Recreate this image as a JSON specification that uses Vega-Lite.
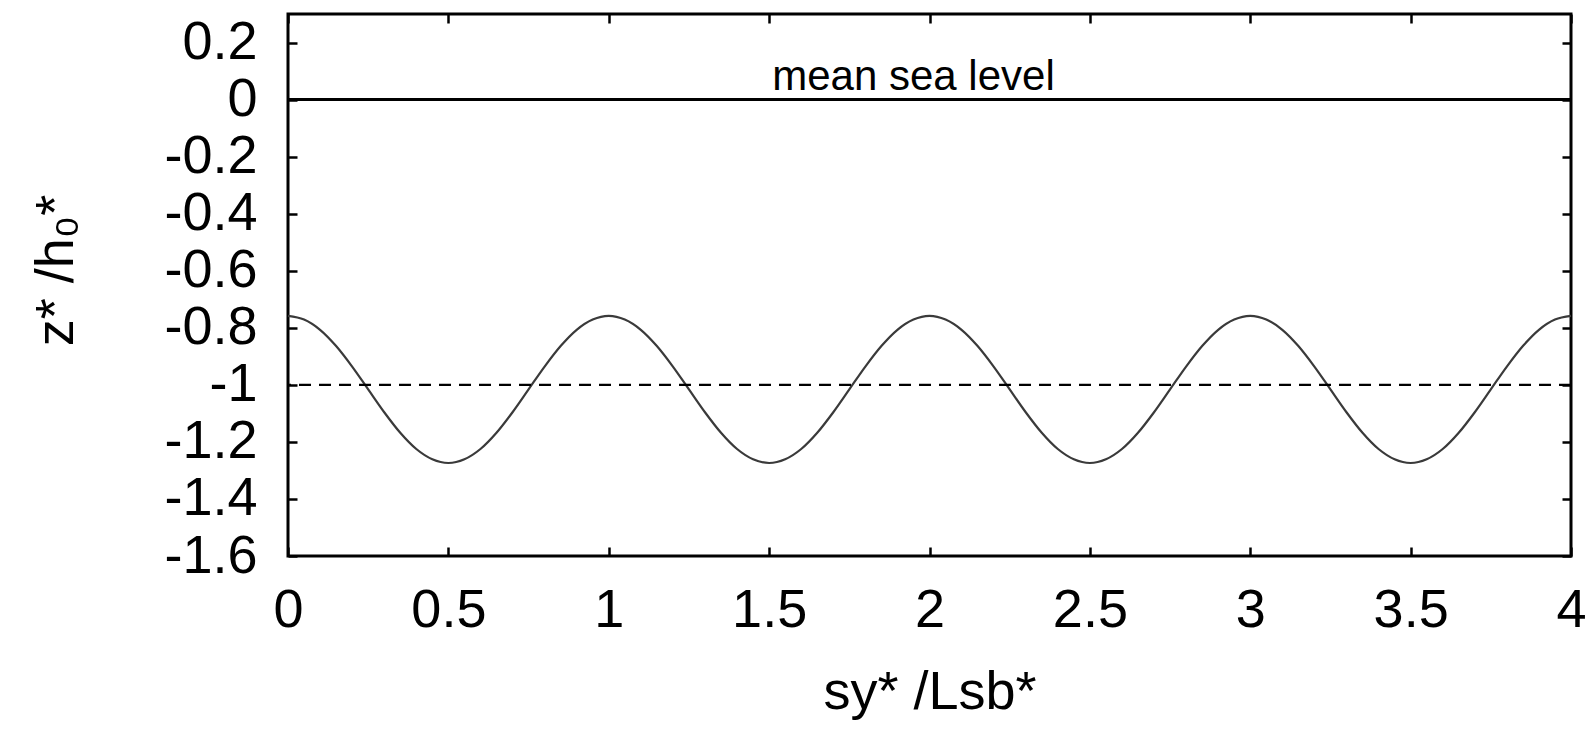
{
  "$schema": "https://vega.github.io/schema/vega-lite/v6.json",
  "autosize": "none",
  "width": 1283,
  "height": 542,
  "padding": {"left": 288, "top": 14, "right": 23, "bottom": 175},
  "background": "white",
  "config": {
    "view": {"stroke": "black", "strokeWidth": 3},
    "font": "Liberation Sans",
    "axis": {"grid": false, "domain": false, "ticks": true, "tickColor": "black", "tickWidth": 2.5, "tickSize": 9, "offset": -9, "labelColor": "black", "titleColor": "black", "labelFont": "Liberation Sans", "titleFont": "Liberation Sans", "labelFontSize": 54, "titleFontSize": 54, "titleFontWeight": "normal", "labelFlush": false, "labelOverlap": false}
  },
  "datasets": {
    "profile": [
      {"s":0,"z":-0.758},{"s":0.05,"z":-0.771},{"s":0.1,"z":-0.807},{"s":0.15,"z":-0.864},{"s":0.2,"z":-0.936},{"s":0.25,"z":-1.016},{"s":0.3,"z":-1.096},{"s":0.35,"z":-1.168},{"s":0.4,"z":-1.225},{"s":0.45,"z":-1.261},
      {"s":0.5,"z":-1.274},{"s":0.55,"z":-1.261},{"s":0.6,"z":-1.225},{"s":0.65,"z":-1.168},{"s":0.7,"z":-1.096},{"s":0.75,"z":-1.016},{"s":0.8,"z":-0.936},{"s":0.85,"z":-0.864},{"s":0.9,"z":-0.807},{"s":0.95,"z":-0.771},
      {"s":1,"z":-0.758},{"s":1.05,"z":-0.771},{"s":1.1,"z":-0.807},{"s":1.15,"z":-0.864},{"s":1.2,"z":-0.936},{"s":1.25,"z":-1.016},{"s":1.3,"z":-1.096},{"s":1.35,"z":-1.168},{"s":1.4,"z":-1.225},{"s":1.45,"z":-1.261},
      {"s":1.5,"z":-1.274},{"s":1.55,"z":-1.261},{"s":1.6,"z":-1.225},{"s":1.65,"z":-1.168},{"s":1.7,"z":-1.096},{"s":1.75,"z":-1.016},{"s":1.8,"z":-0.936},{"s":1.85,"z":-0.864},{"s":1.9,"z":-0.807},{"s":1.95,"z":-0.771},
      {"s":2,"z":-0.758},{"s":2.05,"z":-0.771},{"s":2.1,"z":-0.807},{"s":2.15,"z":-0.864},{"s":2.2,"z":-0.936},{"s":2.25,"z":-1.016},{"s":2.3,"z":-1.096},{"s":2.35,"z":-1.168},{"s":2.4,"z":-1.225},{"s":2.45,"z":-1.261},
      {"s":2.5,"z":-1.274},{"s":2.55,"z":-1.261},{"s":2.6,"z":-1.225},{"s":2.65,"z":-1.168},{"s":2.7,"z":-1.096},{"s":2.75,"z":-1.016},{"s":2.8,"z":-0.936},{"s":2.85,"z":-0.864},{"s":2.9,"z":-0.807},{"s":2.95,"z":-0.771},
      {"s":3,"z":-0.758},{"s":3.05,"z":-0.771},{"s":3.1,"z":-0.807},{"s":3.15,"z":-0.864},{"s":3.2,"z":-0.936},{"s":3.25,"z":-1.016},{"s":3.3,"z":-1.096},{"s":3.35,"z":-1.168},{"s":3.4,"z":-1.225},{"s":3.45,"z":-1.261},
      {"s":3.5,"z":-1.274},{"s":3.55,"z":-1.261},{"s":3.6,"z":-1.225},{"s":3.65,"z":-1.168},{"s":3.7,"z":-1.096},{"s":3.75,"z":-1.016},{"s":3.8,"z":-0.936},{"s":3.85,"z":-0.864},{"s":3.9,"z":-0.807},{"s":3.95,"z":-0.771},
      {"s":4,"z":-0.758}
    ],
    "levels": [{"name":"mean sea level","z":0},{"name":"reference depth","z":-1}],
    "note": [{"s":1.95,"z":0,"label":"mean sea level"}]
  },
  "resolve": {"axis": {"x": "independent", "y": "independent"}},
  "layer": [
    {
      "data": {"name": "profile"},
      "mark": {"type": "line", "color": "#3a3a3a", "strokeWidth": 2.2, "interpolate": "monotone"},
      "encoding": {
        "x": {"field": "s", "type": "quantitative", "scale": {"domain": [0, 4], "nice": false, "zero": false},
          "axis": {"orient": "bottom", "values": [0,0.5,1,1.5,2,2.5,3,3.5,4], "format": "~g", "labelPadding": 27, "title": "sy* /Lsb*", "titlePadding": 28}},
        "y": {"field": "z", "type": "quantitative", "scale": {"domain": [-1.6, 0.3], "nice": false, "zero": false},
          "axis": {"orient": "left", "values": [-1.6,-1.4,-1.2,-1,-0.8,-0.6,-0.4,-0.2,0,0.2], "format": "~g", "labelExpr": "replace(datum.label, '\u2212', '-')", "labelPadding": 31, "title": "z* /h₀*", "titlePadding": 80, "titleY": 256}}
      }
    },
    {
      "data": {"name": "levels"},
      "transform": [{"filter": "datum.z == 0"}],
      "mark": {"type": "rule", "color": "black", "strokeWidth": 3},
      "encoding": {"y": {"field": "z", "type": "quantitative", "axis": null}}
    },
    {
      "data": {"name": "levels"},
      "transform": [{"filter": "datum.z == -1"}],
      "mark": {"type": "rule", "color": "black", "strokeWidth": 2.2, "strokeDash": [12, 8]},
      "encoding": {"y": {"field": "z", "type": "quantitative", "axis": null}}
    },
    {
      "data": {"name": "note"},
      "mark": {"type": "text", "font": "Liberation Sans", "fontSize": 42, "color": "black", "baseline": "alphabetic", "align": "center", "dy": -10},
      "encoding": {
        "x": {"field": "s", "type": "quantitative", "axis": {"orient": "top", "values": [0,0.5,1,1.5,2,2.5,3,3.5,4], "labels": false, "title": null}},
        "y": {"field": "z", "type": "quantitative", "axis": {"orient": "right", "values": [-1.6,-1.4,-1.2,-1,-0.8,-0.6,-0.4,-0.2,0,0.2], "labels": false, "title": null}},
        "text": {"field": "label"}
      }
    }
  ]
}
